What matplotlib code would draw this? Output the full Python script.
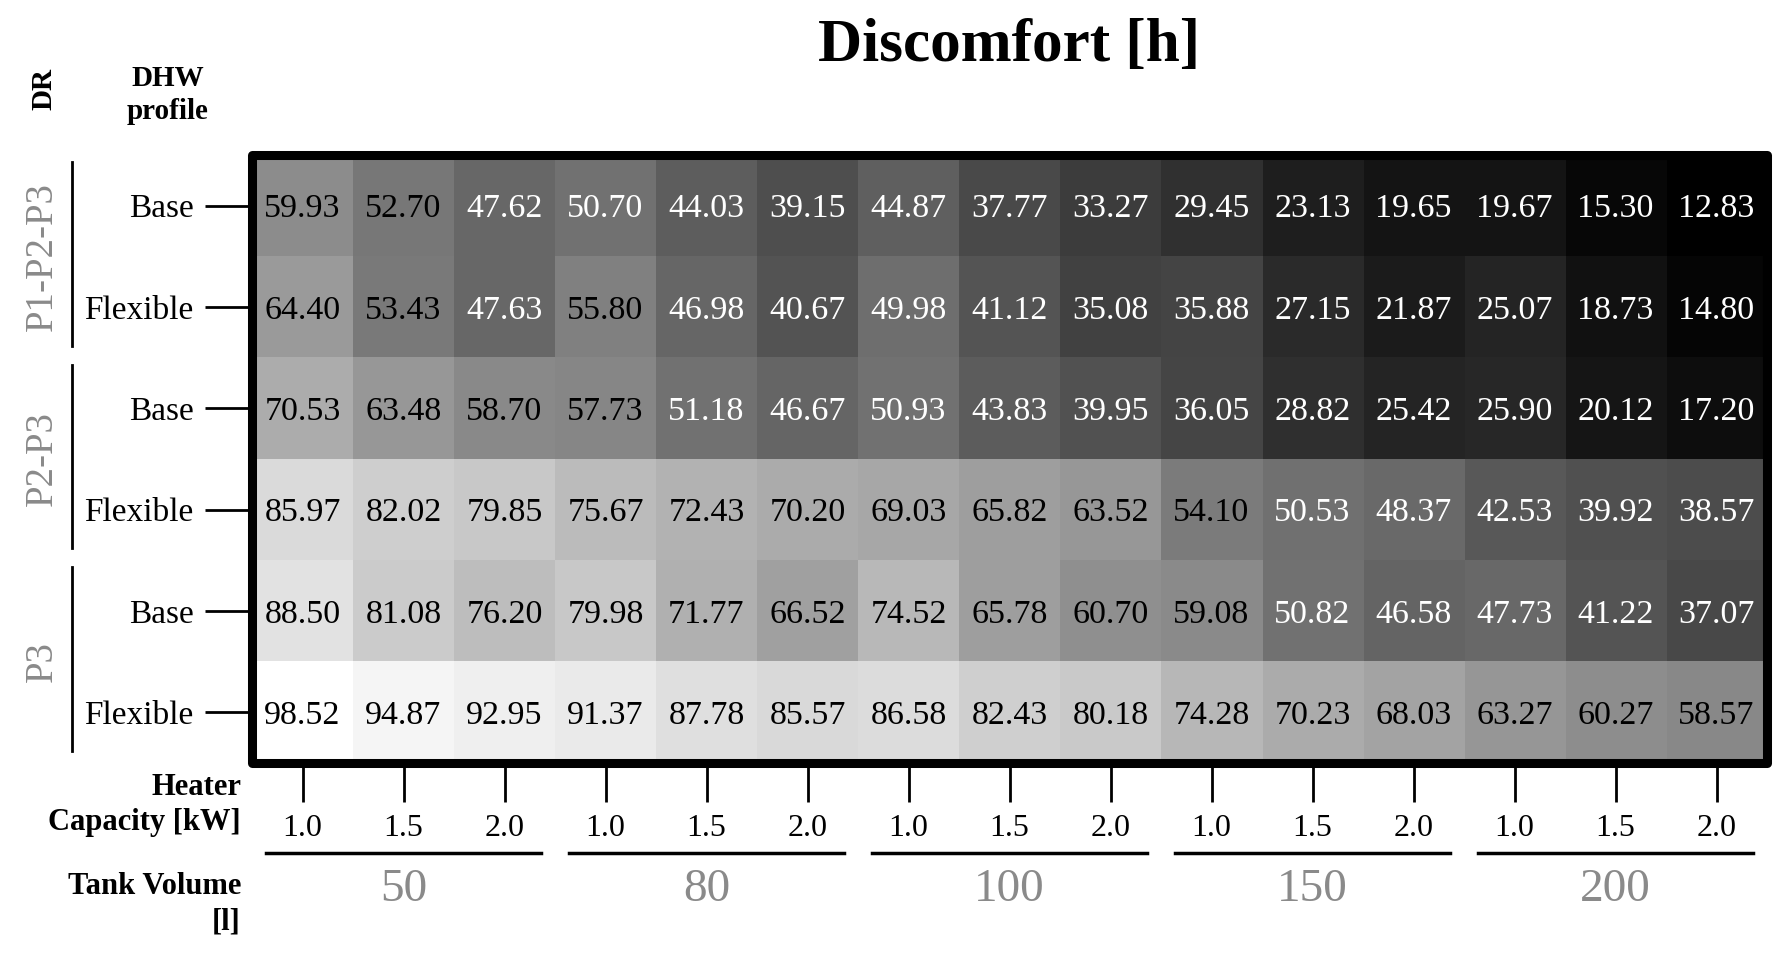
import numpy as np
import matplotlib
matplotlib.use("Agg")
import matplotlib.pyplot as plt
import matplotlib.transforms as mtrans
from matplotlib.patches import Rectangle

plt.rcParams['font.family'] = ['Liberation Serif', 'DejaVu Serif']

# ---- data ----
dr_groups = ['P1-P2-P3', 'P2-P3', 'P3']
dhw_profiles = ['Base', 'Flexible', 'Base', 'Flexible', 'Base', 'Flexible']
tank_volumes = ['50', '80', '100', '150', '200']
heater_caps = ['1.0', '1.5', '2.0']

discomfort = np.array([
    [59.93, 52.70, 47.62, 50.70, 44.03, 39.15, 44.87, 37.77, 33.27, 29.45, 23.13, 19.65, 19.67, 15.30, 12.83],
    [64.40, 53.43, 47.63, 55.80, 46.98, 40.67, 49.98, 41.12, 35.08, 35.88, 27.15, 21.87, 25.07, 18.73, 14.80],
    [70.53, 63.48, 58.70, 57.73, 51.18, 46.67, 50.93, 43.83, 39.95, 36.05, 28.82, 25.42, 25.90, 20.12, 17.20],
    [85.97, 82.02, 79.85, 75.67, 72.43, 70.20, 69.03, 65.82, 63.52, 54.10, 50.53, 48.37, 42.53, 39.92, 38.57],
    [88.50, 81.08, 76.20, 79.98, 71.77, 66.52, 74.52, 65.78, 60.70, 59.08, 50.82, 46.58, 47.73, 41.22, 37.07],
    [98.52, 94.87, 92.95, 91.37, 87.78, 85.57, 86.58, 82.43, 80.18, 74.28, 70.23, 68.03, 63.27, 60.27, 58.57],
])

W, H = 1791, 956
fig = plt.figure(figsize=(W / 100, H / 100), dpi=100)

# heatmap axes (border centre line)
x0, x1, y0, y1 = 252, 1767, 155, 763
ax = fig.add_axes([x0 / W, 1 - y1 / H, (x1 - x0) / W, (y1 - y0) / H])

ax.imshow(discomfort, cmap='gray', vmin=discomfort.min(), vmax=discomfort.max(),
          aspect='auto', interpolation='nearest')

nrow, ncol = discomfort.shape
for i in range(nrow):
    for j in range(ncol):
        v = discomfort[i, j]
        ax.text(j, i, f"{v:.2f}", ha='center', va='center_baseline', fontsize=24.5,
                color='black' if v > 52 else 'white')

for s in ax.spines.values():
    s.set_visible(False)
ax.add_patch(Rectangle((0, 0), 1, 1, transform=ax.transAxes, fill=False,
                       ec='black', lw=6.5, joinstyle='round', clip_on=False, zorder=5))

# ticks
ax.set_yticks(range(nrow))
ax.set_yticklabels(dhw_profiles, fontsize=24)
ax.tick_params(axis='y', length=34, width=2, pad=8)
ax.set_xticks(range(ncol))
ax.set_xticklabels(heater_caps * len(tank_volumes), fontsize=23)
ax.tick_params(axis='x', length=28, width=2, pad=8.5)

# DR groups on the left
tr_y = mtrans.blended_transform_factory(ax.transAxes, ax.transData)
for k, name in enumerate(dr_groups):
    top = 2 * k - 0.5 + 0.07
    bot = 2 * k + 1.5 - 0.12
    ax.plot([-0.1188, -0.1188], [top, bot], color='black', lw=2,
            transform=tr_y, clip_on=False)
    ax.text(-0.1386, 2 * k + 0.5, name, rotation=90, ha='center', va='center',
            fontsize=28, color='#8a8a8a', transform=tr_y)

# tank volume groups at the bottom
tr_x = mtrans.blended_transform_factory(ax.transData, ax.transAxes)
for g, vol in enumerate(tank_volumes):
    c = 3 * g + 1
    ax.plot([c - 1.36, c + 1.36], [-0.148, -0.148], color='black', lw=2.5,
            transform=tr_x, clip_on=False)
    ax.text(c, -0.2, vol, ha='center', va='center_baseline', fontsize=34,
            color='#8a8a8a', transform=tr_x)

# headers / labels
ax_cx = (x0 + x1) / 2 / W
fig.text(ax_cx, 1 - 46 / H, 'Discomfort [h]', ha='center', va='center',
         fontsize=44, fontweight='bold')
fig.text(44 / W, 1 - 89 / H, 'DR', rotation=90, ha='center', va='center',
         fontsize=21, fontweight='bold')
fig.text(168 / W, 1 - 95 / H, 'DHW\nprofile', ha='center', va='center',
         fontsize=21, fontweight='bold', linespacing=1.25)
fig.text(241 / W, 1 - 805 / H, 'Heater\nCapacity [kW]', ha='right', va='center',
         fontsize=22, fontweight='bold', linespacing=1.3, multialignment='right')
fig.text(241 / W, 1 - 904 / H, 'Tank Volume\n[l]', ha='right', va='center',
         fontsize=22, fontweight='bold', linespacing=1.3, multialignment='right')

fig.savefig('out.png', dpi=100)
